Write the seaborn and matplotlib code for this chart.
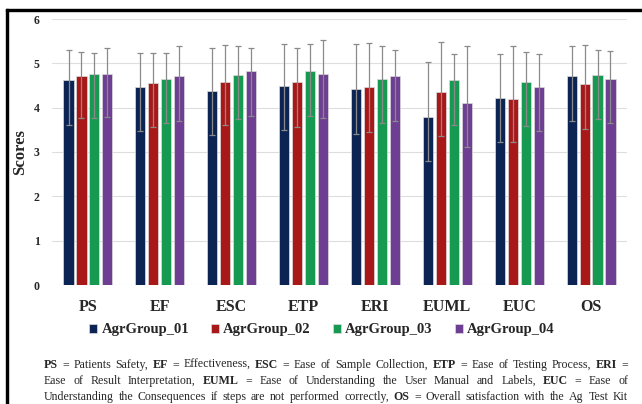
import numpy as np
import pandas as pd
import matplotlib
matplotlib.use("Agg")
import matplotlib.pyplot as plt
import seaborn as sns
from matplotlib.patches import Rectangle

# scores (mean, top of error bar, bottom of error bar)
categories = ["PS", "EF", "ESC", "ETP", "ERI", "EUML", "EUC", "OS"]
groups = ["AgrGroup_01", "AgrGroup_02", "AgrGroup_03", "AgrGroup_04"]
colors = ["#002060", "#C00000", "#00B050", "#7030A0"]

mean_g1 = [4.62, 4.47, 4.38, 4.50, 4.41, 3.79, 4.22, 4.71]
mean_g2 = [4.72, 4.55, 4.59, 4.58, 4.47, 4.35, 4.20, 4.53]
mean_g3 = [4.76, 4.65, 4.73, 4.82, 4.65, 4.62, 4.59, 4.74]
mean_g4 = [4.77, 4.71, 4.82, 4.77, 4.71, 4.11, 4.47, 4.65]

hi_g1 = [5.29, 5.23, 5.34, 5.44, 5.44, 5.03, 5.20, 5.40]
hi_g2 = [5.25, 5.23, 5.41, 5.35, 5.46, 5.47, 5.38, 5.42]
hi_g3 = [5.24, 5.23, 5.39, 5.44, 5.39, 5.20, 5.25, 5.30]
hi_g4 = [5.34, 5.39, 5.35, 5.52, 5.30, 5.40, 5.20, 5.27]

lo_g1 = [3.62, 3.47, 3.38, 3.50, 3.41, 2.80, 3.22, 3.71]
lo_g2 = [3.77, 3.56, 3.60, 3.57, 3.46, 3.37, 3.22, 3.53]
lo_g3 = [3.77, 3.65, 3.74, 3.82, 3.65, 3.62, 3.58, 3.74]
lo_g4 = [3.78, 3.71, 3.82, 3.76, 3.71, 3.12, 3.48, 3.65]

caption = [
    "*PS = Patients Safety, *EF = Effectiveness, *ESC = Ease of Sample Collection, *ETP = Ease of Testing Process, *ERI =",
    "Ease of Result Interpretation, *EUML = Ease of Understanding the User Manual and Labels, *EUC = Ease of",
    "Understanding the Consequences if steps are not performed correctly, *OS = Overall satisfaction with the Ag Test Kit",
]

means = [mean_g1, mean_g2, mean_g3, mean_g4]
highs = [hi_g1, hi_g2, hi_g3, hi_g4]
lows = [lo_g1, lo_g2, lo_g3, lo_g4]

rows = []
for g, m in zip(groups, means):
    for c, v in zip(categories, m):
        rows.append({"cat": c, "group": g, "score": v})
df = pd.DataFrame(rows)

sns.set_theme(style="white")
plt.rcParams["font.family"] = ["Liberation Serif", "DejaVu Serif"]

W, H = 642, 404
fig = plt.figure(figsize=(W / 100, H / 100), dpi=100)
ax = fig.add_axes([52 / W, 1 - 285 / H, (627 - 52) / W, (285 - 19) / H])

sns.barplot(data=df, x="cat", y="score", hue="group", palette=colors,
            width=0.72, gap=0.22, errorbar=None, edgecolor="#dcdcdc",
            linewidth=0.5, ax=ax, zorder=2)

# asymmetric error bars on top of the seaborn bars
for cont, hi, lo in zip(ax.containers, highs, lows):
    for bar, h, l in zip(cont, hi, lo):
        x = bar.get_x() + bar.get_width() / 2
        y = bar.get_height()
        ax.errorbar(x, y, yerr=[[y - l], [h - y]], fmt="none",
                    ecolor="#8a8a8a", elinewidth=0.9, capsize=2,
                    capthick=0.9, zorder=3)

ax.set_ylim(0, 6)
ax.set_xlim(-0.5, len(categories) - 0.5)
ax.set_yticks(range(7))
ax.yaxis.grid(True, color="#dedede", linewidth=0.8, zorder=0)
ax.set_axisbelow(True)
for s in ax.spines.values():
    s.set_visible(False)
ax.tick_params(axis="x", length=0, pad=10, labelsize=11.5)
ax.tick_params(axis="y", length=0, pad=9, labelsize=8.5)
for t in ax.get_xticklabels() + ax.get_yticklabels():
    t.set_fontweight("bold")
ax.set_xlabel("")
ax.set_ylabel("Scores", fontsize=12, fontweight="bold", labelpad=4)

handles, labels = ax.get_legend_handles_labels()
ax.get_legend().remove()
fig.legend(handles, labels, loc="center left", bbox_to_anchor=(89 / W, 1 - 330 / H),
           ncol=4, frameon=False, borderpad=0, borderaxespad=0,
           handlelength=0.55, handleheight=0.55, handletextpad=0.3,
           columnspacing=1.5, prop={"family": "Liberation Serif", "weight": "bold", "size": 10.5})

# justified caption, word by word
renderer = fig.canvas.get_renderer()
x0, x1 = 44, 628
line_y = [365, 381, 397]
for line, yy in zip(caption, line_y):
    texts = []
    for w in line.split(" "):
        bold = w.startswith("*")
        t = fig.text(0, 1 - yy / H, w.lstrip("*"), fontsize=8.6,
                     fontweight="bold" if bold else "normal", va="center", ha="left")
        texts.append(t)
    widths = [t.get_window_extent(renderer).width for t in texts]
    gap = (x1 - x0 - sum(widths)) / (len(texts) - 1)
    pos = x0
    for t, wd in zip(texts, widths):
        t.set_x(pos / W)
        pos += wd + gap

# frame of the original picture (only top and left edges visible)
fig.patches.append(Rectangle((6 / W, 1 - 11 / H), (W - 6) / W, 2 / H,
                             transform=fig.transFigure, color="black", clip_on=False))
fig.patches.append(Rectangle((6 / W, 0), 2 / W, 1 - 9 / H,
                             transform=fig.transFigure, color="black", clip_on=False))

fig.savefig("out.png", dpi=100)
